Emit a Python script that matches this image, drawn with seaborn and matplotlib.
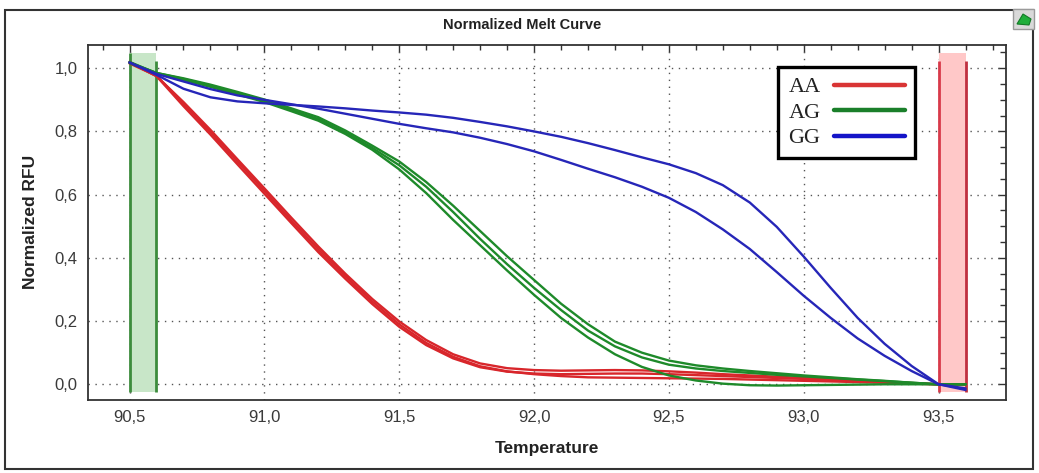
import numpy as np
import pandas as pd
import seaborn as sns
import matplotlib
matplotlib.use("Agg")
import matplotlib.pyplot as plt
from matplotlib.lines import Line2D
from matplotlib.patches import Rectangle, Polygon
from matplotlib.ticker import MultipleLocator, FuncFormatter

# ---------------- data ----------------
temperature = [90.5, 90.6, 90.7, 90.8, 90.9, 91.0, 91.1, 91.2, 91.3, 91.4,
               91.5, 91.6, 91.7, 91.8, 91.9, 92.0, 92.1, 92.2, 92.3, 92.4,
               92.5, 92.6, 92.7, 92.8, 92.9, 93.0, 93.1, 93.2, 93.3, 93.4,
               93.5, 93.6]

aa_1 = [1.018, 0.975, 0.893, 0.805, 0.712, 0.620, 0.527, 0.436, 0.350, 0.270,
        0.199, 0.140, 0.095, 0.066, 0.051, 0.045, 0.043, 0.044, 0.045, 0.044,
        0.041, 0.037, 0.032, 0.028, 0.024, 0.020, 0.016, 0.012, 0.008, 0.004,
        0.000, 0.000]
aa_2 = [1.020, 0.975, 0.880, 0.790, 0.696, 0.603, 0.510, 0.418, 0.334, 0.254,
        0.182, 0.124, 0.082, 0.054, 0.040, 0.034, 0.032, 0.033, 0.034, 0.034,
        0.032, 0.029, 0.026, 0.023, 0.020, 0.017, 0.014, 0.010, 0.007, 0.003,
        0.000, 0.000]
aa_3 = [1.015, 0.976, 0.888, 0.798, 0.705, 0.612, 0.518, 0.427, 0.342, 0.262,
        0.190, 0.131, 0.087, 0.057, 0.041, 0.032, 0.026, 0.022, 0.021, 0.020,
        0.019, 0.018, 0.017, 0.015, 0.013, 0.011, 0.009, 0.007, 0.005, 0.002,
        0.000, 0.000]

ag_1 = [1.020, 0.984, 0.963, 0.941, 0.917, 0.893, 0.864, 0.834, 0.792, 0.742,
        0.680, 0.605, 0.520, 0.440, 0.360, 0.283, 0.210, 0.148, 0.095, 0.055,
        0.028, 0.012, 0.002, -0.003, -0.004, -0.003, -0.002, -0.001, 0.000, 0.000,
        0.000, 0.000]
ag_2 = [1.018, 0.985, 0.966, 0.945, 0.921, 0.897, 0.868, 0.839, 0.797, 0.748,
        0.693, 0.625, 0.545, 0.460, 0.380, 0.305, 0.235, 0.170, 0.120, 0.085,
        0.062, 0.050, 0.042, 0.036, 0.030, 0.025, 0.020, 0.015, 0.010, 0.005,
        0.000, 0.000]
ag_3 = [1.016, 0.985, 0.968, 0.948, 0.925, 0.901, 0.873, 0.845, 0.803, 0.755,
        0.705, 0.640, 0.565, 0.485, 0.405, 0.330, 0.255, 0.190, 0.135, 0.100,
        0.075, 0.060, 0.050, 0.042, 0.035, 0.028, 0.022, 0.016, 0.011, 0.005,
        0.000, 0.000]

gg_1 = [1.018, 0.979, 0.935, 0.908, 0.895, 0.889, 0.884, 0.879, 0.873, 0.866,
        0.860, 0.853, 0.843, 0.830, 0.816, 0.800, 0.783, 0.763, 0.741, 0.718,
        0.696, 0.668, 0.630, 0.575, 0.498, 0.404, 0.305, 0.210, 0.128, 0.058,
        0.000, -0.018]
gg_2 = [1.018, 0.982, 0.958, 0.934, 0.914, 0.900, 0.886, 0.872, 0.856, 0.840,
        0.824, 0.810, 0.797, 0.780, 0.760, 0.737, 0.710, 0.682, 0.655, 0.625,
        0.590, 0.545, 0.490, 0.428, 0.355, 0.280, 0.210, 0.145, 0.090, 0.042,
        0.000, -0.013]

genotypes = ["AA", "AG", "GG"]
curves = {"AA": [aa_1, aa_2, aa_3], "AG": [ag_1, ag_2, ag_3], "GG": [gg_1, gg_2]}

start_region = (90.5, 90.6)
end_region = (93.5, 93.6)

x_ticks = [90.5, 91.0, 91.5, 92.0, 92.5, 93.0, 93.5]
y_ticks = [0.0, 0.2, 0.4, 0.6, 0.8, 1.0]

# ---------------- style ----------------
palette = {"AA": "#d8262b", "AG": "#1e8a2a", "GG": "#2626b8"}
legend_colors = {"AA": "#d93535", "AG": "#1a7f2a", "GG": "#1414c8"}

rows = []
for g in genotypes:
    for i, run in enumerate(curves[g]):
        for t, v in zip(temperature, run):
            rows.append({"Temperature": t, "RFU": v, "Genotype": g, "Run": f"{g}{i}"})
df = pd.DataFrame(rows)

sns.set_theme(style="white")
plt.rcParams["font.family"] = ["Liberation Sans", "DejaVu Sans"]

W, H = 1039, 473
fig = plt.figure(figsize=(W / 100, H / 100), dpi=100)
fig.patch.set_facecolor("white")

ax_l, ax_r, ax_t, ax_b = 88, 1006, 44.5, 400
ax = fig.add_axes([ax_l / W, 1 - ax_b / H, (ax_r - ax_l) / W, (ax_b - ax_t) / H])
ax.set_facecolor("white")

# regions
band_lo, band_hi, line_hi = -0.025, 1.048, 1.023
ax.fill_between(list(start_region), band_lo, band_hi, color="#c8e6c8", lw=0, zorder=1)
ax.vlines(start_region[0], band_lo, band_hi, color="#3c8c3c", lw=2, zorder=1.5)
ax.vlines(start_region[1], band_lo, line_hi, color="#3c8c3c", lw=2, zorder=1.5)
ax.fill_between(list(end_region), band_lo, band_hi, color="#ffc8c8", lw=0, zorder=1)
ax.vlines(end_region[0], band_lo, line_hi, color="#d83a4a", lw=2, zorder=1.5)
ax.vlines(end_region[1], band_lo, line_hi, color="#c03040", lw=2, zorder=1.5)

sns.lineplot(data=df, x="Temperature", y="RFU", hue="Genotype", units="Run",
             estimator=None, palette=palette, legend=False, lw=1.7, ax=ax,
             zorder=3, sort=False)

ax.set_xlim(90.346, 93.75)
ax.set_ylim(-0.0497, 1.075)
ax.set_xticks(x_ticks)
ax.set_yticks(y_ticks)
ax.xaxis.set_minor_locator(MultipleLocator(0.1))
ax.yaxis.set_minor_locator(MultipleLocator(0.05))
fmt = FuncFormatter(lambda v, p: f"{v:.1f}".replace(".", ","))
ax.xaxis.set_major_formatter(fmt)
ax.yaxis.set_major_formatter(fmt)

ax.grid(True, which="major", color="#555555", lw=1.0, linestyle=(0, (1, 4)))
ax.set_axisbelow(True)

ax.tick_params(which="major", direction="inout", length=11, width=1.1,
               color="#333333", labelsize=12, labelcolor="#3a3a3a", pad=2)
ax.tick_params(which="minor", direction="inout", length=6, width=1.0,
               color="#333333")

for side in ["top", "right"]:
    if side == "top":
        sec = ax.secondary_xaxis("top")
        sec.set_xticks(x_ticks)
        sec.xaxis.set_minor_locator(MultipleLocator(0.1))
    else:
        sec = ax.secondary_yaxis("right")
        sec.set_yticks(y_ticks)
        sec.yaxis.set_minor_locator(MultipleLocator(0.05))
    sec.tick_params(which="major", direction="in", length=6, width=1.0,
                    color="#333333", labelsize=0)
    sec.tick_params(which="minor", direction="in", length=4, width=1.0,
                    color="#333333")
    if side == "top":
        sec.set_xticklabels([])
    else:
        sec.set_yticklabels([])
    for s in sec.spines.values():
        s.set_visible(False)

for s in ax.spines.values():
    s.set_visible(True)
    s.set_color("#333333")
    s.set_linewidth(1.3)

ax.set_xlabel("Temperature", fontsize=12.5, fontweight="bold", color="#222222")
ax.set_ylabel("Normalized RFU", fontsize=12.5, fontweight="bold", color="#222222")
ax.xaxis.set_label_coords(0.5, -0.115)
ax.yaxis.set_label_coords(-0.055, 0.5)

# legend
handles = [Line2D([0], [0], color=legend_colors[g], lw=3.2, solid_capstyle="round")
           for g in genotypes]
leg = ax.legend(handles, genotypes, loc="upper left", bbox_to_anchor=(0.752, 0.937),
                markerfirst=False, frameon=True, fancybox=False, framealpha=1,
                edgecolor="black", borderpad=0.45, labelspacing=0.22,
                handlelength=3.2, handletextpad=0.6, borderaxespad=0,
                prop={"family": ["Liberation Serif", "DejaVu Serif"], "size": 16})
leg.get_frame().set_linewidth(2.4)
for t in leg.get_texts():
    t.set_color("#222222")
leg.set_zorder(5)

# title
fig.text(522 / W, 1 - 25 / H, "Normalized Melt Curve", ha="center", va="center",
         fontsize=10.5, fontweight="bold", color="#222222",
         family=["Liberation Sans", "DejaVu Sans"])

# outer frame
fig.patches.append(Rectangle((5 / W, 1 - 469 / H), (1033 - 5) / W, (469 - 10) / H,
                             transform=fig.transFigure, fill=False,
                             ec="#333333", lw=1.5))
# corner icon
fig.patches.append(Rectangle((1013 / W, 1 - 29 / H), 21 / W, 20 / H,
                             transform=fig.transFigure, fc="#d9d9d9",
                             ec="#9a9a9a", lw=1))
fig.patches.append(Polygon([(1017 / W, 1 - 24 / H), (1023 / W, 1 - 14 / H),
                            (1031 / W, 1 - 19 / H), (1029 / W, 1 - 25 / H)],
                           closed=True, transform=fig.transFigure,
                           fc="#1fae3a", ec="#137a26", lw=0.8))

fig.savefig("out.png", dpi=100)
